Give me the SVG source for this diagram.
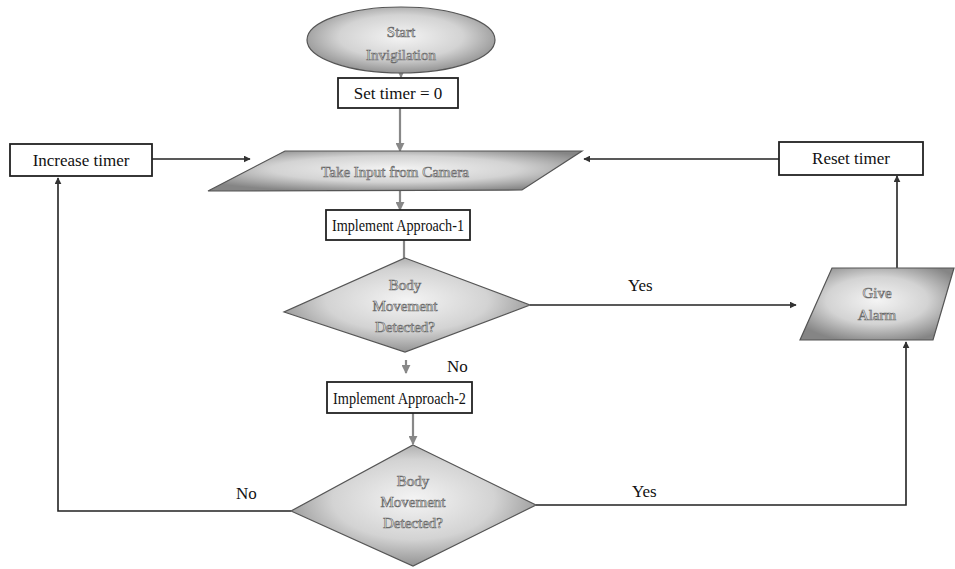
<svg xmlns="http://www.w3.org/2000/svg" width="955" height="569" viewBox="0 0 955 569">
<defs>
<radialGradient id="g" cx="50%" cy="45%" r="60%">
<stop offset="0" stop-color="#f4f4f4"/>
<stop offset="0.55" stop-color="#d3d3d3"/>
<stop offset="1" stop-color="#858585"/>
</radialGradient>
<marker id="ah" viewBox="0 0 10 10" refX="9" refY="5" markerWidth="7" markerHeight="7" orient="auto-start-reverse" markerUnits="userSpaceOnUse">
<path d="M0,0 L10,5 L0,10 z" fill="#333"/>
</marker>
<marker id="ahg" viewBox="0 0 10 10" refX="9" refY="5" markerWidth="9" markerHeight="9" orient="auto" markerUnits="userSpaceOnUse">
<path d="M0,0 L10,5 L0,10 z" fill="#888"/>
</marker>
</defs>
<style>
.shape{fill:url(#g);stroke:#555;stroke-width:1.2}
.box{fill:#fff;stroke:#222;stroke-width:1.8}
.bt{font-family:"Liberation Serif",serif;font-size:17px;fill:#111;text-anchor:middle}
.wt{font-family:"Liberation Serif",serif;font-size:15px;fill:#fff;stroke:#6a6a6a;stroke-width:0.7;text-anchor:middle}
.lbl{font-family:"Liberation Serif",serif;font-size:17px;fill:#111}
.c{fill:none;stroke:#222;stroke-width:1.6}
.cg{fill:none;stroke:#888;stroke-width:2.2}
</style>
<rect width="955" height="569" fill="#fff"/>
<g id="connectors">
<line class="cg" x1="401" y1="73" x2="401" y2="77" marker-end="url(#ahg)"/>
<line class="cg" x1="400" y1="108" x2="400" y2="151" marker-end="url(#ahg)"/>
<line class="cg" x1="400" y1="191" x2="400" y2="210" marker-end="url(#ahg)"/>
<line class="cg" x1="404" y1="240" x2="404" y2="258"/>
<line class="cg" x1="406" y1="360" x2="406" y2="373" marker-end="url(#ahg)"/>
<line class="cg" x1="413" y1="413" x2="413" y2="444" marker-end="url(#ahg)"/>
<line class="c" x1="152" y1="159" x2="250" y2="159" marker-end="url(#ah)"/>
<line class="c" x1="779" y1="159" x2="584" y2="159" marker-end="url(#ah)"/>
<line class="c" x1="530" y1="305" x2="796" y2="305" marker-end="url(#ah)"/>
<line class="c" x1="897" y1="268" x2="897" y2="176" marker-end="url(#ah)"/>
<polyline class="c" points="291,511 58,511 58,178" marker-end="url(#ah)"/>
<polyline class="c" points="536,505 906,505 906,342" marker-end="url(#ah)"/>
<text class="lbl" x="628" y="291">Yes</text>
<text class="lbl" x="447" y="372">No</text>
<text class="lbl" x="236" y="499">No</text>
<text class="lbl" x="632" y="497">Yes</text>
</g>
<g id="start">
<ellipse class="shape" cx="401" cy="40" rx="94" ry="33"/>
<text class="wt" x="401" y="37">Start</text>
<text class="wt" x="401" y="60">Invigilation</text>
</g>
<g id="set-timer">
<rect class="box" x="338" y="78" width="120" height="30"/>
<text class="bt" x="398" y="99">Set timer = 0</text>
</g>
<g id="take-input">
<polygon class="shape" points="285,151 582,151 522,190 208,191"/>
<text class="wt" x="395" y="177">Take Input from Camera</text>
</g>
<g id="increase-timer">
<rect class="box" x="10" y="144" width="142" height="32"/>
<text class="bt" x="81" y="166">Increase timer</text>
</g>
<g id="reset-timer">
<rect class="box" x="779" y="142" width="144" height="33"/>
<text class="bt" x="851" y="164">Reset timer</text>
</g>
<g id="approach-1">
<rect class="box" x="326" y="210" width="144" height="30"/>
<text class="bt" x="398" y="231" textLength="132" lengthAdjust="spacingAndGlyphs">Implement Approach-1</text>
</g>
<g id="decision-1">
<polygon class="shape" points="405,258 530,305 405,352 284,312"/>
<text class="wt" x="405" y="290">Body</text>
<text class="wt" x="405" y="311">Movement</text>
<text class="wt" x="405" y="332">Detected?</text>
</g>
<g id="give-alarm">
<polygon class="shape" points="832,268 954,268 933,340 800,340"/>
<text class="wt" x="877" y="298">Give</text>
<text class="wt" x="877" y="320">Alarm</text>
</g>
<g id="approach-2">
<rect class="box" x="327" y="382" width="145" height="31"/>
<text class="bt" x="399.5" y="404" textLength="133" lengthAdjust="spacingAndGlyphs">Implement Approach-2</text>
</g>
<g id="decision-2">
<polygon class="shape" points="413,445 536,505 413,566 291,511"/>
<text class="wt" x="413" y="486">Body</text>
<text class="wt" x="413" y="507">Movement</text>
<text class="wt" x="413" y="528">Detected?</text>
</g>
</svg>
